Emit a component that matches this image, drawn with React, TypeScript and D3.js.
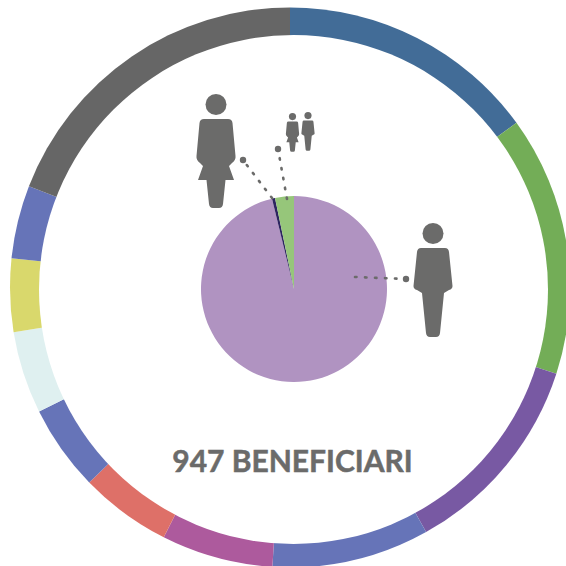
import React from "react";
import * as d3 from "d3";

const ringValues = [142, 142, 113, 86, 61, 50, 47, 45, 40, 40, 181];
const ringColors = ["#426c97", "#73ad57", "#7859a3", "#6674b8", "#ad5a9d", "#de7068", "#6674b8", "#dff0f0", "#d9d86c", "#6674b8", "#666666"];
const pieValues = [911, 5, 31];
const pieColors = ["#b093c1", "#2d2560", "#96c67a"];
const title = "947 BENEFICIARI";
const GREY = "#6b6b6a";

const WOMAN = "M-12 25 Q-16 25 -16.5 29 L-19.5 62 Q-20 66 -16 69 L-13 72 L-18 86 L-9.5 86 L-7 110 Q-6.5 114 -3 114 L3 114 Q6.5 114 7 110 L9.5 86 L18 86 L13 72 L16 69 Q20 66 19.5 62 L16.5 29 Q16 25 12 25 Z";
const MAN = "M-12 25 Q-15.5 25 -16 29 L-19.5 63 Q-19.5 66 -16 67 L-11 70 L-7 110 Q-6.5 114 -3 114 L3 114 Q6.5 114 7 110 L11 70 L16 67 Q19.5 66 19.5 63 L16 29 Q15.5 25 12 25 Z";

function Person({ kind, x, y, s }: { kind: string; x: number; y: number; s: number }) {
  return (
    <g transform={`translate(${x},${y}) scale(${s})`} fill={GREY}>
      <circle cx={0} cy={10.5} r={10.5} />
      <path d={kind === "w" ? WOMAN : MAN} />
    </g>
  );
}

function Leader({ x1, y1, x2, y2 }: { x1: number; y1: number; x2: number; y2: number }) {
  return (
    <g>
      <line x1={x1} y1={y1} x2={x2} y2={y2} stroke={GREY} strokeWidth={2.6} strokeLinecap="round" strokeDasharray="1.5 8.5" />
      <circle cx={x2} cy={y2} r={3.2} fill={GREY} />
    </g>
  );
}

export default function App() {
  const ring = d3.pie<number>().sort(null)(ringValues);
  const ringArc = d3.arc<d3.PieArcDatum<number>>().innerRadius(0).outerRadius(280);
  const inner = d3.pie<number>().sort(null)(pieValues);
  const innerArc = d3.arc<d3.PieArcDatum<number>>().innerRadius(0).outerRadius(93);
  return (
    <svg width={566} height={566} style={{ position: "absolute", left: 0, top: 0, background: "#fff" }}>
      <g transform="translate(290,287.4)">
        {ring.map((d, i) => (
          <path key={i} d={ringArc(d) as string} fill={ringColors[i]} />
        ))}
      </g>
      <circle cx={293.5} cy={289.5} r={254.5} fill="#fff" />
      <g transform="translate(294,289)">
        {inner.map((d, i) => (
          <path key={i} d={innerArc(d) as string} fill={pieColors[i]} />
        ))}
      </g>
      <Leader x1={272} y1={198} x2={243} y2={160} />
      <Leader x1={287} y1={199} x2={278} y2={149} />
      <Leader x1={355} y1={277} x2={406} y2={279} />
      <Person kind="w" x={216} y={94} s={1} />
      <Person kind="m" x={433} y={223} s={1} />
      <Person kind="w" x={292.5} y={113} s={0.34} />
      <Person kind="m" x={308} y={112} s={0.34} />
      <text x={292.5} y={472} textAnchor="middle" fontFamily="Lato" fontWeight={700} fontSize={30} fill={GREY} stroke={GREY} strokeWidth={0.5}>
        {title}
      </text>
    </svg>
  );
}
